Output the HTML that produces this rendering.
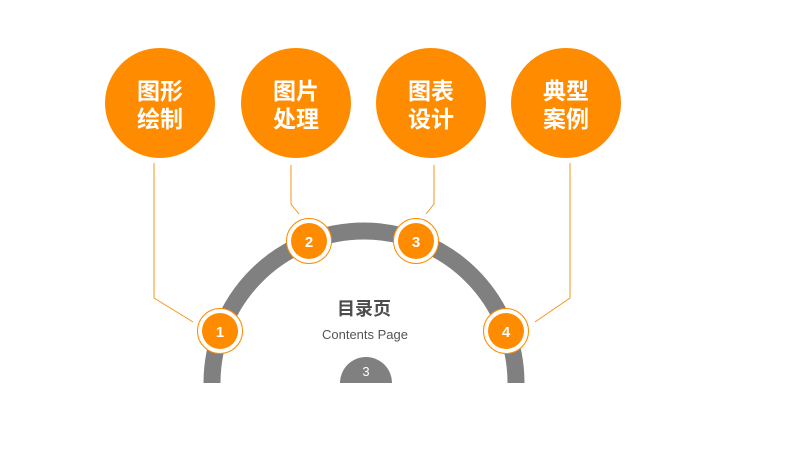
<!DOCTYPE html>
<html><head><meta charset="utf-8"><style>
html,body{margin:0;padding:0;width:802px;height:449px;background:#fff;overflow:hidden}
svg{display:block}
text{font-family:"Liberation Sans","Noto Sans CJK SC",sans-serif}
</style></head><body>
<svg width="802" height="449" viewBox="0 0 802 449">
<path d="M212,383 A152,152 0 0 1 516,383" fill="none" stroke="#808080" stroke-width="17"/>
<path d="M340,383 A26,26 0 0 1 392,383 Z" fill="#808080"/>
<text x="366" y="376" fill="#fff" font-size="13" text-anchor="middle">3</text>
<g fill="none" stroke="#f7941d" stroke-width="1">
<polyline points="154,163 154,298 193,322"/>
<polyline points="291,165 291,204 299,214"/>
<polyline points="434,165 434,204 426,214"/>
<polyline points="570,163 570,298 535,322"/>
</g>
<g fill="#ff8c00">
<circle cx="160" cy="103" r="55"/><circle cx="296" cy="103" r="55"/>
<circle cx="431" cy="103" r="55"/><circle cx="566" cy="103" r="55"/>
</g>
<g fill="#fff" font-size="23" font-weight="bold" text-anchor="middle">
<text x="160" y="99">图形</text><text x="160" y="127">绘制</text>
<text x="296" y="99">图片</text><text x="296" y="127">处理</text>
<text x="431" y="99">图表</text><text x="431" y="127">设计</text>
<text x="566" y="99">典型</text><text x="566" y="127">案例</text>
</g>
<g>
<circle cx="220" cy="331" r="22.5" fill="#fff" stroke="#ff8c00" stroke-width="1"/><circle cx="220" cy="331" r="18" fill="#ff8c00"/>
<circle cx="309" cy="241" r="22.5" fill="#fff" stroke="#ff8c00" stroke-width="1"/><circle cx="309" cy="241" r="18" fill="#ff8c00"/>
<circle cx="416" cy="241" r="22.5" fill="#fff" stroke="#ff8c00" stroke-width="1"/><circle cx="416" cy="241" r="18" fill="#ff8c00"/>
<circle cx="506" cy="331" r="22.5" fill="#fff" stroke="#ff8c00" stroke-width="1"/><circle cx="506" cy="331" r="18" fill="#ff8c00"/>
</g>
<g fill="#fff" font-size="15" font-weight="bold" text-anchor="middle">
<text x="220" y="337">1</text><text x="309" y="247">2</text><text x="416" y="247">3</text><text x="506" y="337">4</text>
</g>
<text x="364" y="315" fill="#4d4d4d" font-size="18" font-weight="bold" text-anchor="middle">目录页</text>
<text x="365" y="339" fill="#555" font-size="13" text-anchor="middle">Contents Page</text>
</svg>
</body></html>
